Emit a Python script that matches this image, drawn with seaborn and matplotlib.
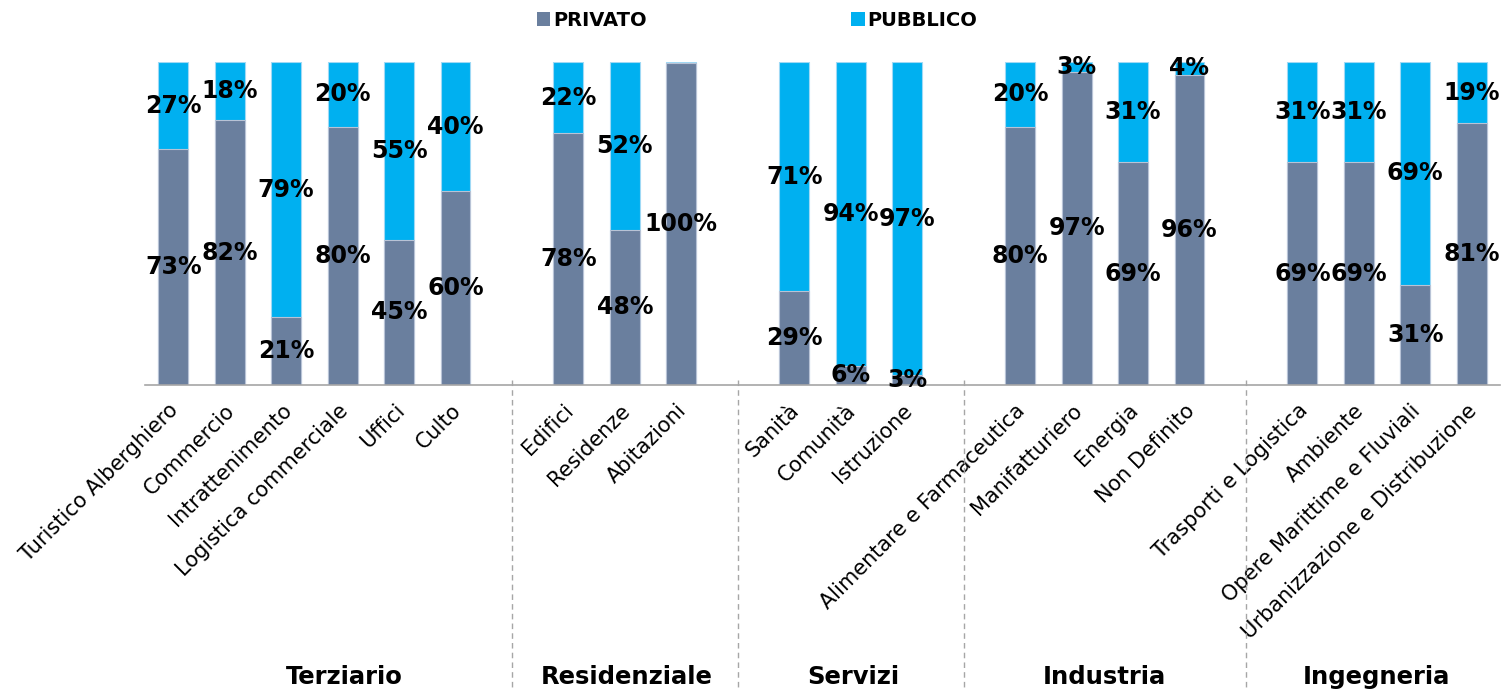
import matplotlib
matplotlib.use("Agg")
import matplotlib.pyplot as plt
import matplotlib.transforms as mtransforms
from matplotlib.patches import Patch
import seaborn as sns
import pandas as pd

# ---------------- data ----------------
groups = ["Terziario", "Residenziale", "Servizi", "Industria", "Ingegneria"]
group_sizes = [6, 3, 3, 4, 4]
categories = [
    "Turistico Alberghiero", "Commercio", "Intrattenimento", "Logistica commerciale", "Uffici", "Culto",
    "Edifici", "Residenze", "Abitazioni",
    "Sanità", "Comunità", "Istruzione",
    "Alimentare e Farmaceutica", "Manifatturiero", "Energia", "Non Definito",
    "Trasporti e Logistica", "Ambiente", "Opere Marittime e Fluviali", "Urbanizzazione e Distribuzione",
]
privato = [73, 82, 21, 80, 45, 60,
           78, 48, 99.6,
           29, 6, 3,
           80, 97, 69, 96,
           69, 69, 31, 81]
pubblico = [27, 18, 79, 20, 55, 40,
            22, 52, 0.4,
            71, 94, 97,
            20, 3, 31, 4,
            31, 31, 69, 19]
series_names = ["PRIVATO", "PUBBLICO"]
colors = {"PRIVATO": "#6A7F9E", "PUBBLICO": "#00B0F0"}

# group label positions (slot coordinates, layout only)
group_label_x = [3.03, 8.04, 12.05, 16.5, 21.32]

# ---------------- layout of slots (groups separated by an empty slot) ----------------
order = []
k = 0
gap_slots = []
for gi, (g, n) in enumerate(zip(groups, group_sizes)):
    order.extend(categories[k:k + n])
    k += n
    if gi < len(groups) - 1:
        gap_slots.append(len(order))
        order.append(f"__gap{gi}")

df = pd.DataFrame({"cat": categories, "PRIVATO": privato, "PUBBLICO": pubblico})
df["TOTAL"] = df["PRIVATO"] + df["PUBBLICO"]

sns.set_style("white")
plt.rcParams["font.family"] = ["DejaVu Sans"]
plt.rcParams["text.color"] = "black"
plt.rcParams["xtick.color"] = "black"

fig = plt.figure(figsize=(15.06, 6.91), dpi=100)
ax = fig.add_axes([145 / 1506, 1 - 385 / 691, 1355 / 1506, 323 / 691])

bw = 0.53
sns.barplot(data=df, x="cat", y="TOTAL", order=order, color=colors["PUBBLICO"],
            width=bw, ax=ax, edgecolor="#9fd9f5", linewidth=0.8, saturation=1)
sns.barplot(data=df, x="cat", y="PRIVATO", order=order, color=colors["PRIVATO"],
            width=bw, ax=ax, edgecolor="#b8c3d6", linewidth=0.8, saturation=1)

ax.set_xlim(-0.5, len(order) - 0.5)
ax.set_ylim(0, 100)
ax.set_xlabel("")
ax.set_ylabel("")
ax.set_yticks([])
for s in ["left", "right", "top"]:
    ax.spines[s].set_visible(False)
ax.spines["bottom"].set_color("#a6a6a6")
ax.spines["bottom"].set_linewidth(1.2)

# value labels
pos = {c: i for i, c in enumerate(order)}
for _, r in df.iterrows():
    x = pos[r["cat"]]
    p, q = r["PRIVATO"], r["PUBBLICO"]
    if p >= 1:
        ax.text(x, p / 2, f"{p:.0f}%", ha="center", va="center",
                fontsize=17, fontweight="bold", color="black")
    if q >= 1:
        ax.text(x, p + q / 2, f"{q:.0f}%", ha="center", va="center",
                fontsize=17, fontweight="bold", color="black")

# ticks: labels at bars, tick marks at slot boundaries
cat_pos = [pos[c] for c in categories]
ax.set_xticks(cat_pos)
ax.set_xticklabels(categories, rotation=45, ha="right", rotation_mode="anchor",
                   fontsize=15, color="black")
ax.tick_params(axis="x", which="major", length=0, pad=11)
ax.set_xticks([i - 0.5 for i in range(len(order) + 1)], minor=True)
ax.tick_params(axis="x", which="minor", length=7, color="#a6a6a6", width=1.2)
offset = mtransforms.ScaledTranslation(-5 / 100, 0, fig.dpi_scale_trans)
for lab in ax.get_xticklabels():
    lab.set_transform(lab.get_transform() + offset)

# dashed group separators
trans = mtransforms.blended_transform_factory(ax.transData, ax.transAxes)
for g in gap_slots:
    ax.plot([g, g], [0.015, -0.96], transform=trans, clip_on=False,
            color="#a6a6a6", lw=1, ls=(0, (4, 3)))

# group labels
for gx, g in zip(group_label_x, groups):
    ax.text(gx, -0.904, g, transform=trans, ha="center", va="center",
            fontsize=17.5, fontweight="bold", color="black", clip_on=False)

# legend
handles = [Patch(facecolor=colors[s], edgecolor="none") for s in series_names]
leg = fig.legend(handles, series_names, loc="center", bbox_to_anchor=(757 / 1506, 1 - 20 / 691),
                 ncol=2, frameon=False, handlelength=0.7, handleheight=0.7,
                 handletextpad=0.15, columnspacing=10.5,
                 prop={"size": 14, "weight": "bold"})
for t in leg.get_texts():
    t.set_color("black")

fig.savefig("out.png", dpi=100)
